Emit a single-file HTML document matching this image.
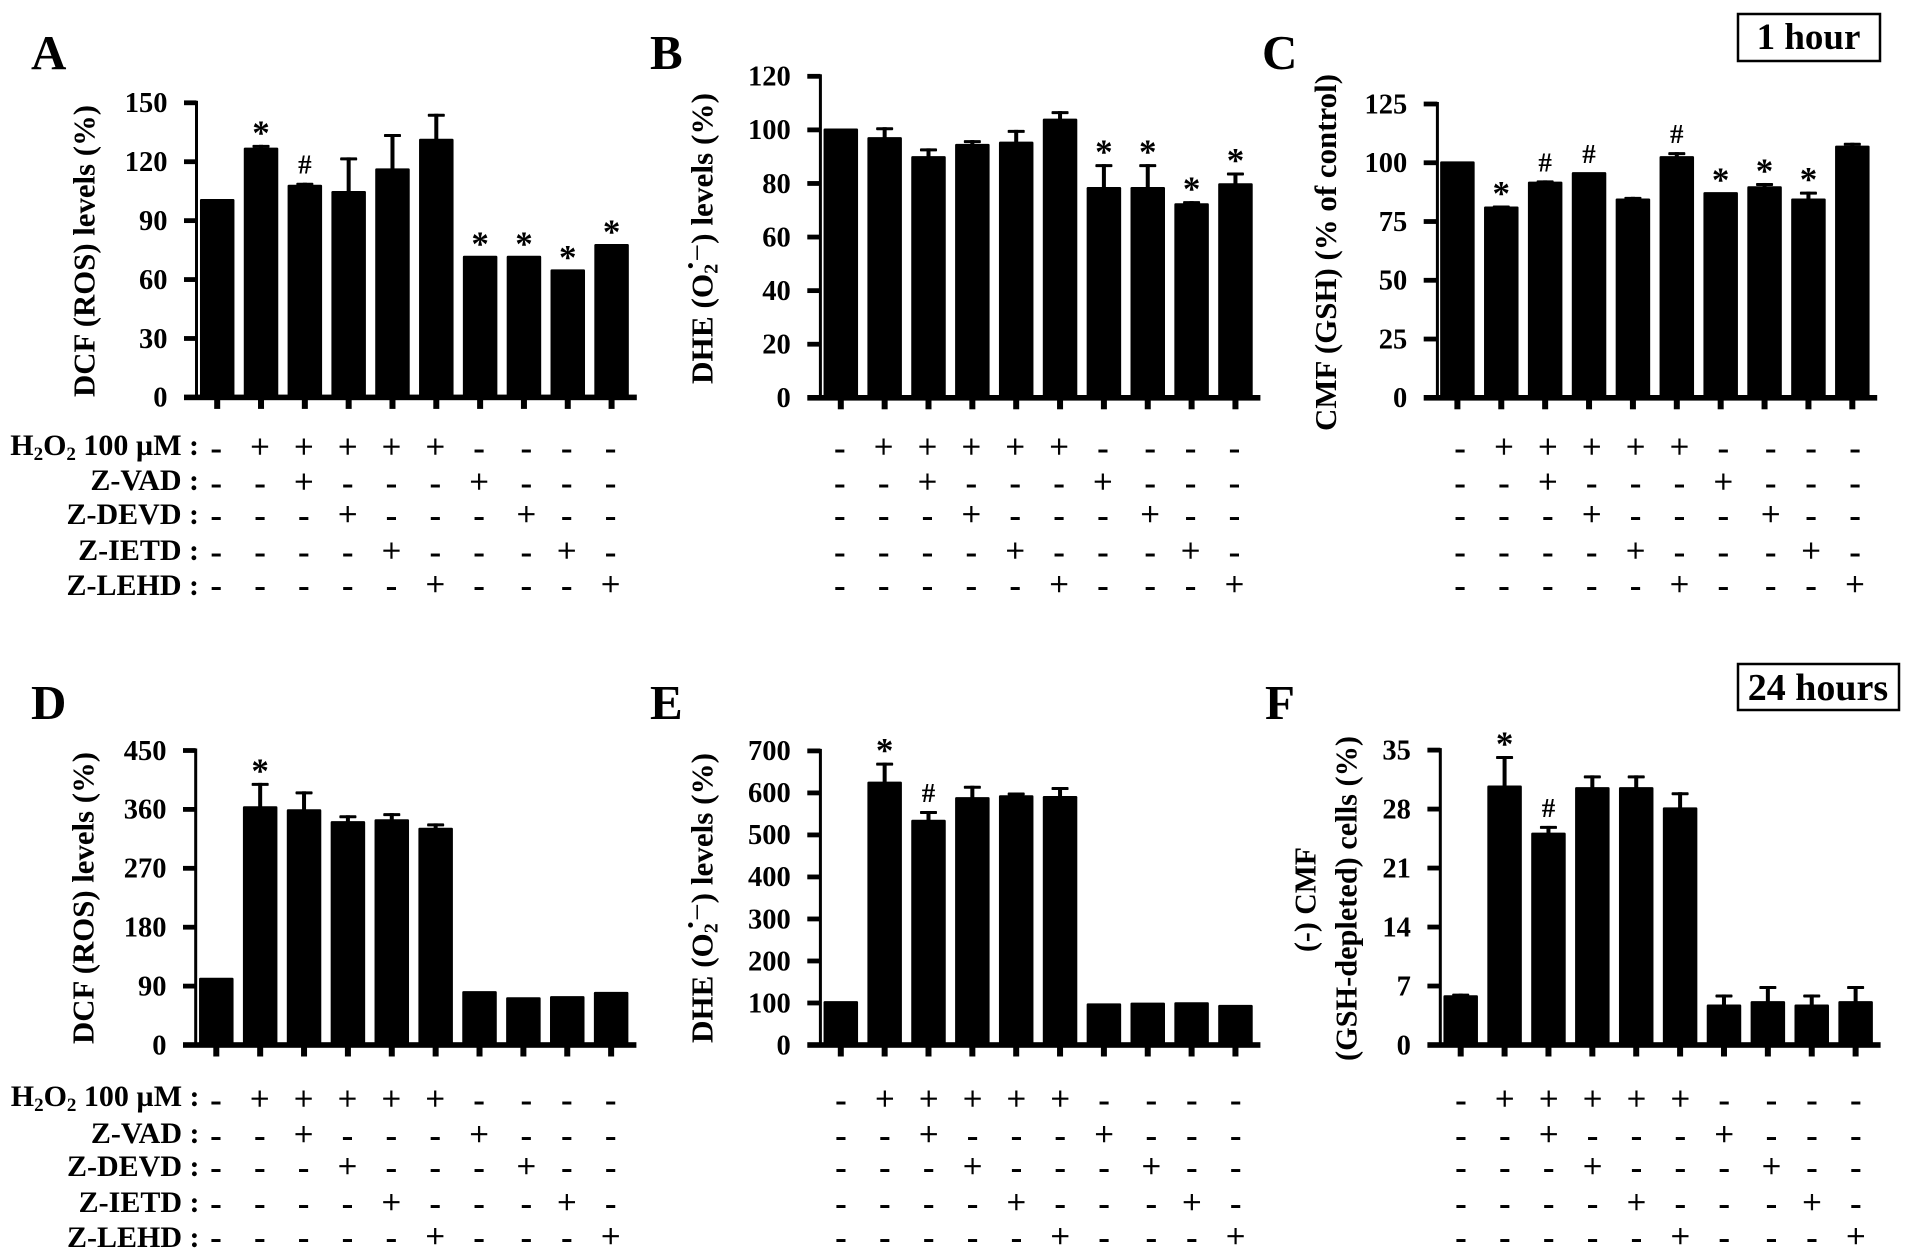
<!DOCTYPE html>
<html lang="en">
<head>
<meta charset="utf-8">
<title>Caspase inhibitor ROS and GSH bar charts</title>
<style>
  html, body { margin: 0; padding: 0; background: #fff; }
  svg { display: block; font-family: "Liberation Serif", "DejaVu Serif", serif; }
  .b { font-weight: bold; }
</style>
</head>
<body>
<svg id="figure" xmlns="http://www.w3.org/2000/svg" width="1913" height="1259" viewBox="0 0 1913 1259">
  <rect x="0" y="0" width="1913" height="1259" fill="#fff"/>

  <g class="b" font-size="49" fill="#000">
    <text x="31" y="69">A</text>
    <text x="650" y="69">B</text>
    <text x="1262" y="69">C</text>
    <text x="31" y="719">D</text>
    <text x="650" y="719">E</text>
    <text x="1265" y="719">F</text>
  </g>

  <g>
    <rect x="1738" y="14" width="142" height="47" fill="#fff" stroke="#000" stroke-width="2.5"/>
    <text class="b" x="1808.5" y="49" font-size="37" text-anchor="middle">1 hour</text>
  </g>
  <g>
    <rect x="1738" y="664" width="161" height="46" fill="#fff" stroke="#000" stroke-width="2.5"/>
    <text class="b" x="1818" y="700" font-size="38" text-anchor="middle">24 hours</text>
  </g>

  <g class="b" font-size="31" fill="#000">
    <text transform="translate(94.5,397) rotate(-90)" textLength="292" lengthAdjust="spacingAndGlyphs">DCF (ROS) levels (%)</text>
    <text transform="translate(712.5,384) rotate(-90)" textLength="291" lengthAdjust="spacingAndGlyphs">DHE (O<tspan font-size="20" dy="5">2</tspan><tspan dx="-7" dy="-17">·</tspan><tspan font-weight="normal" dx="-1" dy="7">−</tspan><tspan dy="5">) levels (%)</tspan></text>
    <text transform="translate(1336,431) rotate(-90)" textLength="357" lengthAdjust="spacingAndGlyphs">CMF (GSH) (% of control)</text>
    <text transform="translate(93.5,1044) rotate(-90)" textLength="292" lengthAdjust="spacingAndGlyphs">DCF (ROS) levels (%)</text>
    <text transform="translate(712.5,1043) rotate(-90)" textLength="290" lengthAdjust="spacingAndGlyphs">DHE (O<tspan font-size="20" dy="5">2</tspan><tspan dx="-7" dy="-17">·</tspan><tspan font-weight="normal" dx="-1" dy="7">−</tspan><tspan dy="5">) levels (%)</tspan></text>
    <text transform="translate(1315.5,952) rotate(-90)" textLength="105" lengthAdjust="spacingAndGlyphs">(-) CMF</text>
    <text transform="translate(1356.5,1061) rotate(-90)" textLength="325" lengthAdjust="spacingAndGlyphs">(GSH-depleted) cells (%)</text>
  </g>

  <g class="b" font-size="30" text-anchor="end" fill="#000">
    <text x="199" y="455">H<tspan font-size="19" dy="5">2</tspan><tspan dy="-5">O</tspan><tspan font-size="19" dy="5">2</tspan><tspan dy="-5"> 100 µM :</tspan></text>
    <text x="199" y="490">Z-VAD :</text>
    <text x="199" y="524">Z-DEVD :</text>
    <text x="199" y="560">Z-IETD :</text>
    <text x="199" y="595">Z-LEHD :</text>
    <text x="199.5" y="1106">H<tspan font-size="19" dy="5">2</tspan><tspan dy="-5">O</tspan><tspan font-size="19" dy="5">2</tspan><tspan dy="-5"> 100 µM :</tspan></text>
    <text x="199.5" y="1143">Z-VAD :</text>
    <text x="199.5" y="1176">Z-DEVD :</text>
    <text x="199.5" y="1212">Z-IETD :</text>
    <text x="199.5" y="1247">Z-LEHD :</text>
  </g>

  <g id="plots"></g>
</svg>

<script>
// Chart data.
const h2o2Row = ['-','+','+','+','+','+','-','-','-','-'];
const zVadRow = ['-','-','+','-','-','-','+','-','-','-'];
const zDevdRow = ['-','-','-','+','-','-','-','+','-','-'];
const zIetdRow = ['-','-','-','-','+','-','-','-','+','-'];
const zLehdRow = ['-','-','-','-','-','+','-','-','-','+'];

const ticksA = [0,30,60,90,120,150];
const valuesA = [101,127.2,108.3,105.1,116.6,131.7,72.1,72.1,65.2,78.1];
const errorsA = [null,128.6,109.3,122.2,134.1,144.4,null,null,null,null];
const marksA = [null,'*','#',null,null,null,'*','*','*','*'];

const ticksB = [0,20,40,60,80,100,120];
const valuesB = [100.5,97.3,90.2,94.8,95.6,104.2,78.7,78.7,72.6,80.1];
const errorsB = [null,101,93.1,96.2,100,107,87.2,87.2,73.4,84.1];
const marksB = [null,null,null,null,null,null,'*','*','*','*'];

const ticksC = [0,25,50,75,100,125];
const valuesC = [100.6,81.4,92,96,84.8,102.8,87.5,90,84.8,107.3];
const errorsC = [null,81.8,92.5,null,85.5,104.5,null,91.4,87.7,108.5];
const marksC = [null,'*','#','#',null,'#','*','*','*',null];

const ticksD = [0,90,180,270,360,450];
const valuesD = [102.7,364.8,360.2,342,345,332,82.3,73,74.7,81.1];
const errorsD = [null,400.5,387.6,351,354.3,338.6,null,null,null,null];
const marksD = [null,'*',null,null,null,null,null,null,null,null];

const ticksE = [0,100,200,300,400,500,600,700];
const valuesE = [104.5,627,536,590,594.5,592.7,99,101,101.8,95.5];
const errorsE = [null,672,557,617,601,614,null,null,null,null];
const marksE = [null,'*','#',null,null,null,null,null,null,null];

const ticksF = [0,7,14,21,28,35];
const valuesF = [5.9,30.8,25.2,30.6,30.6,28.2,4.8,5.2,4.8,5.2];
const errorsF = [6.1,34.3,26,32,32,30,6,7,6,7];
const marksF = [null,'*','#',null,null,null,null,null,null,null];

const signRows = [h2o2Row, zVadRow, zDevdRow, zIetdRow, zLehdRow];

// Layout for each panel (separate from the data above).
const rowYTop = [449.6,484.4,516.9,553.6,587.2];
const rowYBottom = [1101.3,1136.8,1168.9,1205.2,1238.8];
const layouts = [
  {ticks:ticksA, values:valuesA, errors:errorsA, marks:marksA, cx0:217.2, step:43.82, y0:397.4, yTop:102.8, left:184, right:636.8, axis:196.5, rows:rowYTop, signShift:0},
  {ticks:ticksB, values:valuesB, errors:errorsB, marks:marksB, cx0:840.8, step:43.85, y0:397.8, yTop:76.3, left:807.3, right:1260.4, axis:820.4, rows:rowYTop, signShift:0},
  {ticks:ticksC, values:valuesC, errors:errorsC, marks:marksC, cx0:1457.4, step:43.88, y0:397.8, yTop:104, left:1423.7, right:1877.2, axis:1437.4, rows:rowYTop, signShift:3.7},
  {ticks:ticksD, values:valuesD, errors:errorsD, marks:marksD, cx0:216.3, step:43.87, y0:1045, yTop:750.5, left:183, right:636.4, axis:195.7, rows:rowYBottom, signShift:0.6},
  {ticks:ticksE, values:valuesE, errors:errorsE, marks:marksE, cx0:840.8, step:43.85, y0:1045, yTop:750.9, left:807.3, right:1260.4, axis:820.4, rows:rowYBottom, signShift:1.2},
  {ticks:ticksF, values:valuesF, errors:errorsF, marks:marksF, cx0:1460.7, step:43.88, y0:1045, yTop:750.1, left:1427.4, right:1880.6, axis:1440.3, rows:rowYBottom, signShift:1.2}
];
const shiftedSignColumn = 7;
const shiftedSignAmount = 3.4;

const NS = 'http://www.w3.org/2000/svg';
const plots = document.getElementById('plots');

function shape(tag, attrs, parent) {
  const node = document.createElementNS(NS, tag);
  for (const k in attrs) node.setAttribute(k, attrs[k]);
  parent.appendChild(node);
  return node;
}

function xScale(p, i) { return p.cx0 + i * p.step; }
function yScale(p, v) {
  const max = p.ticks[p.ticks.length - 1];
  return p.y0 - (v / max) * (p.y0 - p.yTop);
}

layouts.forEach(function (p) {
  const g = shape('g', {fill:'#000'}, plots);
  
  

  // bars
  p.values.forEach(function (v, i) {
    const top = yScale(p, v);
    const bar = shape('rect', {x:xScale(p, i) - 17.25, y:top, width:34.5, height:p.y0 - top, rx:1.2}, g);
    
    
  });

  // error bars
  p.errors.forEach(function (e, i) {
    if (e === null) return;
    const cx = xScale(p, i);
    const top = yScale(p, e);
    const stem = shape('rect', {x:cx - 2, y:top, width:4, height:yScale(p, p.values[i]) - top + 1}, g);
    
    
    const cap = shape('rect', {x:cx - 8.5, y:top, width:17, height:3, rx:0.8}, g);
    
    
  });

  // significance marks
  p.marks.forEach(function (m, i) {
    if (!m) return;
    const anchor = yScale(p, p.errors[i] !== null ? Math.max(p.errors[i], p.values[i]) : p.values[i]);
    const isStar = m === '*';
    const t = shape('text', {
      x:xScale(p, i), y:isStar ? anchor - 0.5 : anchor - 9,
      'text-anchor':'middle', 'font-size':isStar ? 35 : 27, 'font-weight':'bold'
    }, g);
    t.textContent = m;
    
    
  });

  // y axis
  const axisLine = shape('rect', {x:p.axis - 1.5, y:p.yTop - 2, width:3, height:p.y0 - p.yTop + 2}, g);
  
  

  p.ticks.forEach(function (t) {
    const y = yScale(p, t);
    if (t !== 0) {
      const tick = shape('rect', {x:p.left, y:y - 2.4, width:p.axis - p.left, height:4.8}, g);
      
      
    }
    const label = shape('text', {x:p.left - 16.5, y:y + 9.3, 'text-anchor':'end', 'font-size':28.5, 'font-weight':'bold'}, g);
    label.textContent = t;
    
    
  });

  // x axis
  const base = shape('rect', {x:p.left, y:p.y0 - 2.8, width:p.right - p.left, height:5.6}, g);
  
  

  p.values.forEach(function (v, i) {
    const tick = shape('rect', {x:xScale(p, i) - 3, y:p.y0, width:6, height:11.5}, g);
    
    
  });

  // +/- treatment table
  signRows.forEach(function (row, r) {
    row.forEach(function (s, i) {
      const plus = s === '+';
      const colShift = i === shiftedSignColumn ? shiftedSignAmount : 0;
      const t = shape('text', {
        x:xScale(p, i) - 1 + p.signShift + colShift, y:p.rows[r] + (plus ? 8.5 : 10),
        'text-anchor':'middle', 'font-size':plus ? 34 : 35, 'font-weight':plus ? 'normal' : 'bold',
        stroke:plus ? '#000' : 'none', 'stroke-width':plus ? 0.5 : 0
      }, g);
      t.textContent = s;
      
      
    });
  });
});
</script>
</body>
</html>
